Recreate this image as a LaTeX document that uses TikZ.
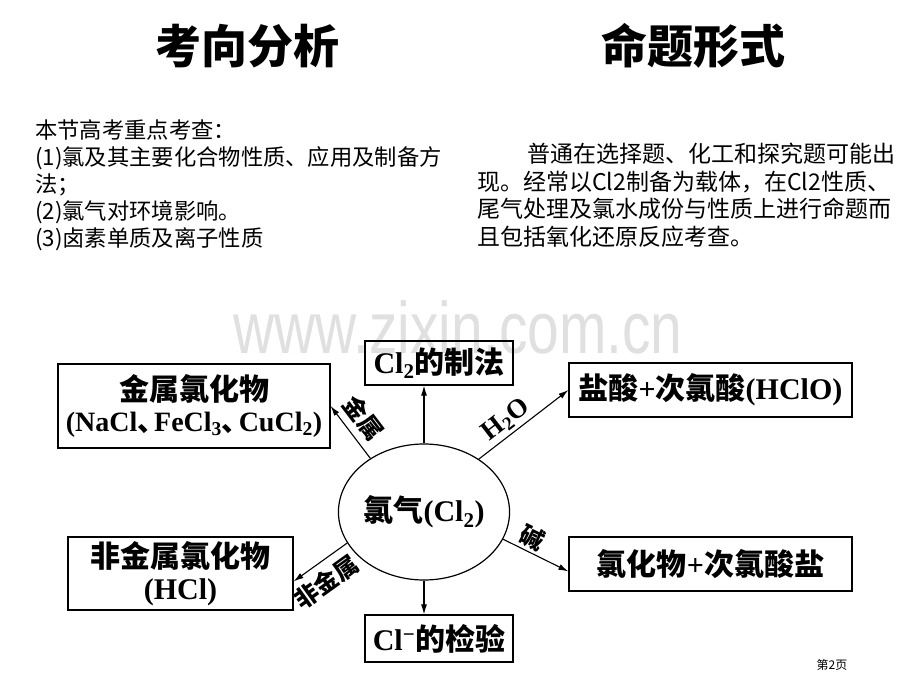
\documentclass[tikz,border=0pt]{standalone}
\usepackage{fontspec}
\usepackage{graphicx}
\setmainfont{Noto Sans CJK SC}
\newfontfamily\tnr{Liberation Serif}
\newfontfamily\arialf{Liberation Sans}
\newcommand{\lat}[1]{{\tnr\bfseries #1}}
\newcommand{\dun}{\makebox[0.6em][l]{、}}
\usetikzlibrary{shapes.geometric,arrows.meta}
\begin{document}
\begin{tikzpicture}[x=1pt,y=-1pt,
	box/.style={draw,line width=1.2pt,inner sep=0pt,align=center,font=\fontsize{30}{34}\selectfont\bfseries},
	arr/.style={-{Latex[length=10pt,width=6pt]},line width=1.1pt},
	lbl/.style={sloped,inner sep=1pt,font=\fontsize{24}{26}\selectfont\bfseries},
	title/.style={font=\fontsize{46}{50}\selectfont\bfseries}]
	\useasboundingbox (0,0) rectangle (920,690);
	\node[title] (analysis) at (247,46) {考向分析};
	\node[title] (forms) at (693,46) {命题形式};
	\node[anchor=north west,inner sep=0pt,align=left,font=\fontsize{22.3}{27}\selectfont] (focus) at (35,119) {本节高考重点考查：\\(1)氯及其主要化合物性质、应用及制备方\\法；\\(2)氯气对环境影响。\\(3)卤素单质及离子性质};
	\node[anchor=north west,inner sep=0pt,align=left,font=\fontsize{23}{27.6}\selectfont] (style) at (477,143) {\hspace*{2.2em}普通在选择题、化工和探究题可能出\\现。经常以Cl2制备为载体，在Cl2性质、\\尾气处理及氯水成份与性质上进行命题而\\且包括氧化还原反应考查。};
	\node[anchor=base,inner sep=0pt,text=black!12,font=\arialf\fontsize{73}{73}\selectfont] (mark) at (458,353) {\scalebox{0.78}[1]{www.zixin.com.cn}};
	\node[draw,ellipse,line width=1.2pt,minimum width=152pt,minimum height=136pt,inner sep=0pt,font=\fontsize{30}{34}\selectfont\bfseries] (gas) at (424,512) {氯气\lat{(Cl\textsubscript{2})}};
	\node[box,minimum width=272pt,minimum height=84pt] (metal) at (194,406) {金属氯化物\\[-3pt]{\fontsize{28}{30}\selectfont\lat{(NaCl}\dun\lat{FeCl\textsubscript{3}}\dun\lat{CuCl\textsubscript{2})}}};
	\node[box,minimum width=148pt,minimum height=44pt] (prep) at (439,363) {\lat{Cl\textsubscript{2}}的制法};
	\node[box,minimum width=283pt,minimum height=54pt] (acid) at (710.5,390) {盐酸\lat{+}次氯酸\lat{(HClO)}};
	\node[box,minimum width=225pt,minimum height=73pt] (nonmetal) at (180.5,573.5) {非金属氯化物\\[-2pt]\lat{(HCl)}};
	\node[box,minimum width=283pt,minimum height=54pt] (salt) at (710.5,564) {氯化物\lat{+}次氯酸盐};
	\node[box,minimum width=148pt,minimum height=47pt] (test) at (439,638.5) {\lat{Cl\textsuperscript{−}}的检验};
	\draw[arr] (gas.north) -- (gas.north |- prep.south);
	\draw[arr] (gas.south) -- (gas.south |- test.north);
	\draw[arr] (gas.135) -- node[lbl,above=6pt,pos=0.55] {金属} (metal.east);
	\draw[arr] (gas.44) -- node[lbl,above=2pt,pos=0.4,font=\fontsize{27}{29}\selectfont] {\lat{H\textsubscript{2}O}} (acid.west);
	\draw[arr] (gas.-19) -- node[lbl,above=1pt,pos=0.35] {碱} (salt.183);
	\draw[arr] (gas.202) -- node[lbl,below=6pt,pos=0.6] {非金属} (nonmetal.-4);
	\node[font=\fontsize{12}{12}\selectfont] (page) at (832,665) {第2页};
\end{tikzpicture}
\end{document}
